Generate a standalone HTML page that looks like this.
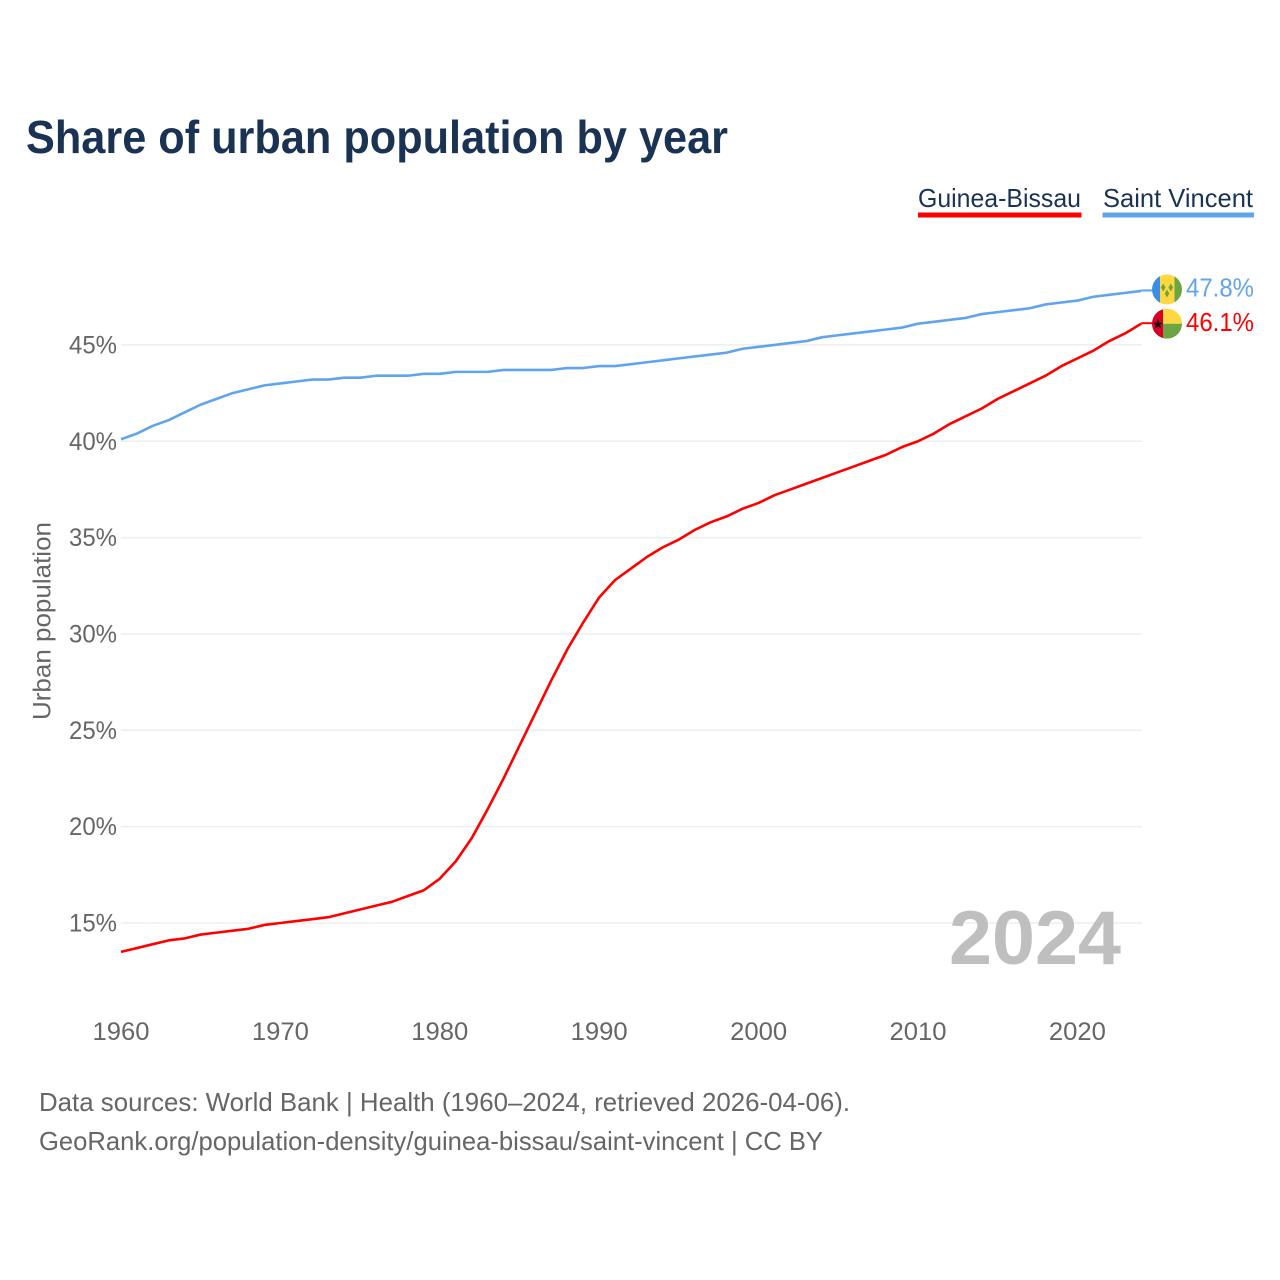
<!DOCTYPE html>
<html lang="en">
<head>
<meta charset="utf-8">
<title>Share of urban population by year</title>
<style>
html,body{margin:0;padding:0;background:#fff}
svg{display:block}
text{font-family:"Liberation Sans",sans-serif}
</style>
</head>
<body>
<svg id="chart" xmlns="http://www.w3.org/2000/svg" width="1280" height="1280" viewBox="0 0 1280 1280">
  <defs>
    <clipPath id="flag-clip"><circle cx="0" cy="0" r="15"></circle></clipPath>
  </defs>
  <rect x="0" y="0" width="1280" height="1280" fill="#fff"></rect>
  <text x="26" y="153" font-size="46" font-weight="700" fill="#1a3353" textLength="702" lengthAdjust="spacingAndGlyphs">Share of urban population by year</text>

  <g>
    <text x="918" y="207" font-size="26" fill="#1a3353" textLength="163" lengthAdjust="spacingAndGlyphs">Guinea-Bissau</text>
    <rect x="918" y="212.5" width="163.5" height="5" fill="#ff0000"></rect>
  </g>
  <g>
    <text x="1103" y="207" font-size="26" fill="#1a3353" textLength="150" lengthAdjust="spacingAndGlyphs">Saint Vincent</text>
    <rect x="1102.5" y="212.5" width="151.5" height="5" fill="#60a5ec"></rect>
  </g>

  <g id="grid"></g>
  <g id="y-ticks"></g>
  <g id="x-ticks"></g>
  <text transform="translate(50.5,621) rotate(-90)" text-anchor="middle" font-size="25" fill="#666" textLength="198" lengthAdjust="spacingAndGlyphs">Urban population</text>

  <text x="949" y="964" font-size="76" font-weight="700" fill="#bfbfbf" textLength="172" lengthAdjust="spacingAndGlyphs">2024</text>

  <path id="line-saint-vincent" fill="none" stroke="#60a5ec" stroke-width="2.6" stroke-linejoin="round"></path>
  <path id="line-guinea-bissau" fill="none" stroke="#ff0000" stroke-width="2.6" stroke-linejoin="round"></path>

  <line id="stem-saint-vincent" stroke="#60a5ec" stroke-width="2"></line>
  <line id="stem-guinea-bissau" stroke="#ff0000" stroke-width="2"></line>

  <g id="flag-saint-vincent">
    <g clip-path="url(#flag-clip)">
      <rect x="-15" y="-15" width="8" height="30" fill="#3b8ee8"></rect>
      <rect x="-7" y="-15" width="14.5" height="30" fill="#ffd740"></rect>
      <rect x="7.5" y="-15" width="8" height="30" fill="#6da544"></rect>
      <polygon points="-3.800,-6 -1.400,-2 -3.800,2 -6.200,-2" fill="#6da544"></polygon>
      <polygon points="3.800,-6 6.200,-2 3.800,2 1.400,-2" fill="#6da544"></polygon>
      <polygon points="0,0 2.400,4 0,8 -2.400,4" fill="#6da544"></polygon>
    </g>
  </g>
  <g id="flag-guinea-bissau">
    <g clip-path="url(#flag-clip)">
      <rect x="-15" y="-15" width="11" height="30" fill="#d80027"></rect>
      <rect x="-4" y="-15" width="20" height="15" fill="#ffd740"></rect>
      <rect x="-4" y="0" width="20" height="15" fill="#6da544"></rect>
      <polygon points="-9,-4.500 -7.600,-1 -4,-1 -6.900,1.200 -5.800,4.800 -9,2.700 -12.200,4.800 -11.100,1.200 -14,-1 -10.400,-1" fill="#111"></polygon>
    </g>
  </g>

  <text id="value-saint-vincent" x="1186" font-size="26" fill="#60a5ec" textLength="68" lengthAdjust="spacingAndGlyphs"></text>
  <text id="value-guinea-bissau" x="1186" font-size="26" fill="#ff0000" textLength="68" lengthAdjust="spacingAndGlyphs"></text>

  <text x="39" y="1111" font-size="26" fill="#666" textLength="811" lengthAdjust="spacingAndGlyphs">Data sources: World Bank | Health (1960–2024, retrieved 2026-04-06).</text>
  <text x="39" y="1150" font-size="26" fill="#666" textLength="784" lengthAdjust="spacingAndGlyphs">GeoRank.org/population-density/guinea-bissau/saint-vincent | CC BY</text>
</svg>
<script>
const startYear = 1960;
const yTickValues = [15, 20, 25, 30, 35, 40, 45];
const xTickValues = [1960, 1970, 1980, 1990, 2000, 2010, 2020];
const guineaBissau = [13.5,13.7,13.9,14.1,14.2,14.4,14.5,14.6,14.7,14.9,15.0,15.1,15.2,15.3,15.5,15.7,15.9,16.1,16.4,16.7,17.3,18.2,19.4,20.9,22.5,24.2,25.9,27.6,29.2,30.6,31.9,32.8,33.4,34.0,34.5,34.9,35.4,35.8,36.1,36.5,36.8,37.2,37.5,37.8,38.1,38.4,38.7,39.0,39.3,39.7,40.0,40.4,40.9,41.3,41.7,42.2,42.6,43.0,43.4,43.9,44.3,44.7,45.2,45.6,46.1];
const saintVincent = [40.1,40.4,40.8,41.1,41.5,41.9,42.2,42.5,42.7,42.9,43.0,43.1,43.2,43.2,43.3,43.3,43.4,43.4,43.4,43.5,43.5,43.6,43.6,43.6,43.7,43.7,43.7,43.7,43.8,43.8,43.9,43.9,44.0,44.1,44.2,44.3,44.4,44.5,44.6,44.8,44.9,45.0,45.1,45.2,45.4,45.5,45.6,45.7,45.8,45.9,46.1,46.2,46.3,46.4,46.6,46.7,46.8,46.9,47.1,47.2,47.3,47.5,47.6,47.7,47.8];

const NS = 'http://www.w3.org/2000/svg';
function xScale(year) { return 121 + (year - 1960) * 15.94; }
function yScale(v) { return 923 - (v - 15) * 19.27; }
function linePath(values) {
  return values.map(function (v, i) {
    return (i ? 'L' : 'M') + xScale(startYear + i).toFixed(2) + ' ' + yScale(v).toFixed(2);
  }).join(' ');
}

const gridGroup = document.getElementById('grid');
const yGroup = document.getElementById('y-ticks');
const xGroup = document.getElementById('x-ticks');

yTickValues.forEach(function (v) {
  const gl = document.createElementNS(NS, 'line');
  
  
  gl.setAttribute('x1', 121);
  gl.setAttribute('x2', 1142);
  gl.setAttribute('y1', yScale(v));
  gl.setAttribute('y2', yScale(v));
  gl.setAttribute('stroke', '#eeeeee');
  gl.setAttribute('stroke-width', '1.5');
  gridGroup.appendChild(gl);

  const t = document.createElementNS(NS, 'text');
  
  
  t.setAttribute('x', 69);
  t.setAttribute('y', yScale(v) + 8.5);
  t.setAttribute('font-size', '25');
  t.setAttribute('fill', '#666');
  t.setAttribute('textLength', '48');
  t.setAttribute('lengthAdjust', 'spacingAndGlyphs');
  t.textContent = v + '%';
  yGroup.appendChild(t);
});

xTickValues.forEach(function (year) {
  const t = document.createElementNS(NS, 'text');
  
  
  t.setAttribute('x', xScale(year) - 28.5);
  t.setAttribute('y', 1040);
  t.setAttribute('font-size', '25');
  t.setAttribute('fill', '#666');
  t.setAttribute('textLength', '57');
  t.setAttribute('lengthAdjust', 'spacingAndGlyphs');
  t.textContent = year;
  xGroup.appendChild(t);
});

function drawSeries(key, values, flagShift, labelShift) {
  const last = values[values.length - 1];
  const endX = xScale(startYear + values.length - 1);
  const endY = yScale(last);
  document.getElementById('line-' + key).setAttribute('d', linePath(values));
  const stem = document.getElementById('stem-' + key);
  stem.setAttribute('x1', endX);
  stem.setAttribute('x2', 1153);
  stem.setAttribute('y1', endY - 0.5);
  stem.setAttribute('y2', endY - 0.5);
  document.getElementById('flag-' + key).setAttribute('transform', 'translate(1167,' + (endY + flagShift) + ')');
  const label = document.getElementById('value-' + key);
  label.setAttribute('y', endY + labelShift);
  label.textContent = last.toFixed(1) + '%';
}
drawSeries('saint-vincent', saintVincent, -1.5, 5.5);
drawSeries('guinea-bissau', guineaBissau, 0, 7.5);
</script>
</body>
</html>
